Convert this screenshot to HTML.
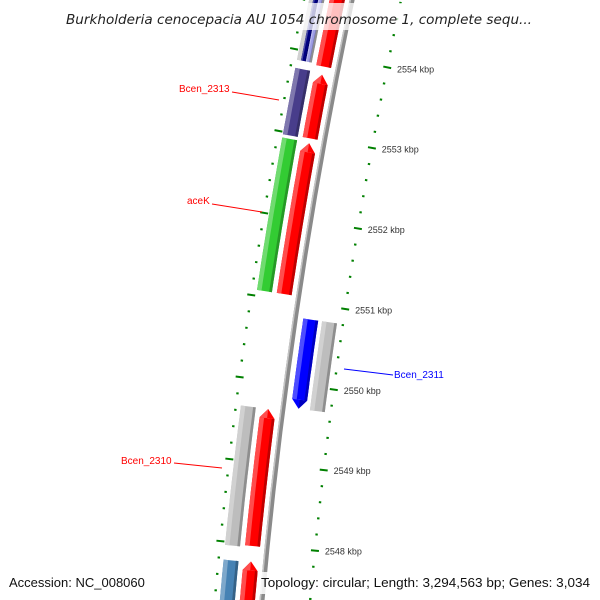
<!DOCTYPE html>
<html><head><meta charset="utf-8"><style>
html,body{margin:0;background:#fff;width:600px;height:600px;overflow:hidden;}
svg{display:block;font-family:"Liberation Sans","DejaVu Sans",sans-serif;}
</style></head><body>
<svg id="map" width="600" height="600" viewBox="0 0 600 600" xmlns="http://www.w3.org/2000/svg" style="overflow:hidden">
<g id="ticks"></g>
<g id="backbone"></g>
<g id="genes"></g>
<g>
<line x1="232" y1="92" x2="279" y2="100" stroke="#ff0000" stroke-width="1"/>
<text x="179" y="92" font-size="10" fill="#ff0000">Bcen_2313</text>
<line x1="212" y1="204" x2="262" y2="212" stroke="#ff0000" stroke-width="1"/>
<text x="187" y="204" font-size="10" fill="#ff0000">aceK</text>
<line x1="174" y1="463" x2="222" y2="468" stroke="#ff0000" stroke-width="1"/>
<text x="121" y="464" font-size="10" fill="#ff0000">Bcen_2310</text>
<line x1="344" y1="369" x2="393" y2="375" stroke="#0000ff" stroke-width="1"/>
<text x="394" y="378" font-size="10" fill="#0000ff">Bcen_2311</text>
</g>
<rect x="62" y="3" width="474" height="27" fill="#fff" fill-opacity="0.75"/>
<text x="299" y="24" font-size="13.3" font-style="italic" fill="#222" text-anchor="middle" textLength="466" lengthAdjust="spacingAndGlyphs" style="font-family:'DejaVu Sans','Liberation Sans',sans-serif">Burkholderia cenocepacia AU 1054 chromosome 1, complete sequ...</text>
<rect x="258" y="572" width="336" height="22" fill="#fff" fill-opacity="0.85"/>
<text x="9" y="587" font-size="13" fill="#111">Accession: NC_008060</text>
<text x="261" y="587" font-size="13" fill="#111" textLength="329" lengthAdjust="spacingAndGlyphs">Topology: circular; Length: 3,294,563 bp; Genes: 3,034</text>
</svg>
<script>
// data (kbp)
const tickMajors = [2555, 2554, 2553, 2552, 2551, 2550, 2549, 2548, 2547, 2546];
const tickLabels = ["2555 kbp","2554 kbp","2553 kbp","2552 kbp","2551 kbp","2550 kbp","2549 kbp","2548 kbp","2547 kbp","2546 kbp"];
const geneStarts = [2553.86, 2552.98, 2551.07, 2547.98, 2546.8, 2553.88, 2553.88, 2553.88, 2552.97, 2551.07, 2547.96, 2546.8, 2549.71, 2549.71];
const geneEnds   = [2555.0, 2553.76, 2552.92, 2549.66, 2547.79, 2555.0, 2555.0, 2555.0, 2553.78, 2552.93, 2549.66, 2547.78, 2550.81, 2550.81];
const geneStrand = [0, 1, 1, 1, 1, 0, 0, 0, 0, 0, 0, 0, -1, 0];
const geneRing   = [-1, -1, -1, -1, -1, -2, -2, -2, -2, -2, -2, -2, 1, 2];
const geneColor  = ["#ff0000","#ff0000","#ff0000","#ff0000","#ff0000","#bdbdbd","#000080","#9e9ee6","#483d8b","#33cc33","#bdbdbd","#4682b4","#0000ff","#bdbdbd"];
const geneName   = ["gene-red-top","gene-red-2313","gene-red-acek","gene-red-2310","gene-red-bottom","gene-gray-top","gene-navy-top","gene-lavender-top","gene-bcen-2313","gene-acek","gene-bcen-2310","gene-steelblue-bottom","gene-bcen-2311","gene-gray-2311"];

const NS = "http://www.w3.org/2000/svg";
const PX_PER_KBP = 81.3;
function yScale(kbp){ return 58 + (2554 - kbp) * PX_PER_KBP; }
function bx(y){ return 352 - 0.21*y + 1e-4*y*y; }
function pt(kbp, d){
  const y = yScale(kbp);
  const dx = -0.21 + 2e-4*y;
  const n = Math.sqrt(1 + dx*dx);
  return [bx(y) + d/n, y - d*dx/n];
}
const ringOff = {"-2":[-42,-27],"-1":[-22,-7],"1":[8,23],"2":[27,42]};
const subOff = {6:[-38,-33],7:[-33,-29]};

function shade(hex, f){
  const c = parseInt(hex.slice(1),16);
  let r=c>>16,g=(c>>8)&255,b=c&255;
  const m = v => Math.max(0,Math.min(255,Math.round(f>1? v+(255-v)*(f-1) : v*f)));
  return "rgb("+m(r)+","+m(g)+","+m(b)+")";
}
function poly(parent, pts, fill, name){
  const p = document.createElementNS(NS,"polygon");
  p.setAttribute("points", pts.map(a=>a[0].toFixed(1)+","+a[1].toFixed(1)).join(" "));
  p.setAttribute("fill", fill);
  
  
  parent.appendChild(p);
  return p;
}
function strip(k0,k1,d0,d1){
  const pts=[], steps=12;
  for(let i=0;i<=steps;i++){ const k=k0+(k1-k0)*i/steps; pts.push(pt(k,d0)); }
  for(let i=steps;i>=0;i--){ const k=k0+(k1-k0)*i/steps; pts.push(pt(k,d1)); }
  return pts;
}

const bb = document.getElementById("backbone");
poly(bb, strip(2546.5, 2555.2, -2.5, 2.5), "#8a8a8a", "backbone-line");
poly(bb, strip(2546.5, 2555.2, -2.5, -1), "#c4c4c4", "backbone-highlight");

const tg = document.getElementById("ticks");
for(let i=0;i<tickMajors.length-1;i++){
  for(let j=0;j<5;j++){
    const k = tickMajors[i] - j*0.2;
    [[-47,"left"],[48,"right"]].forEach(([d,side])=>{
      const major = j===0;
      const a = pt(k, major? d-4 : d-1.2), b = pt(k, major? d+4 : d+1.2);
      const l = document.createElementNS(NS,"line");
      l.setAttribute("x1",a[0]);l.setAttribute("y1",a[1]);l.setAttribute("x2",b[0]);l.setAttribute("y2",b[1]);
      l.setAttribute("stroke","#008000");l.setAttribute("stroke-width","2");
      
      
      tg.appendChild(l);
    });
  }
  const lp = pt(tickMajors[i], 58);
  if(lp[1] > 565 || lp[1] < 35) continue;
  const t = document.createElementNS(NS,"text");
  t.setAttribute("x", lp[0]); t.setAttribute("y", lp[1]+3);
  t.setAttribute("font-size","9"); t.setAttribute("fill","#333");
  t.textContent = tickLabels[i];
  
  
  tg.appendChild(t);
}

const gg = document.getElementById("genes");
for(let i=0;i<geneStarts.length;i++){
  const off = subOff[i] || ringOff[String(geneRing[i])];
  const d0=off[0], d1=off[1], w=d1-d0, mid=(d0+d1)/2;
  const g = document.createElementNS(NS,"g");
  
  
  gg.appendChild(g);
  let k0 = geneStarts[i], k1 = geneEnds[i];
  const ah = 9/PX_PER_KBP;
  let body0=k0, body1=k1;
  if(geneStrand[i]===1) body1 = k1 - ah;
  if(geneStrand[i]===-1) body0 = k0 + ah;
  const col = geneColor[i];
  poly(g, strip(body0, body1, d0, d1), col, "gene-body");
  poly(g, strip(body0, body1, d0, d0+w*0.3), shade(col,1.3), "gene-highlight");
  poly(g, strip(body0, body1, d1-w*0.18, d1), shade(col,0.75), "gene-shadow");
  if(geneStrand[i]===1){
    poly(g, [pt(body1,d0),pt(k1,mid),pt(body1,d1)], col, "gene-arrowhead");
    poly(g, [pt(body1,d0),pt(k1,mid),pt(body1,mid)], shade(col,1.3), "gene-arrowhead-highlight");
  } else if(geneStrand[i]===-1){
    poly(g, [pt(body0,d0),pt(k0,mid),pt(body0,d1)], col, "gene-arrowhead");
    poly(g, [pt(body0,d1),pt(k0,mid),pt(body0,mid)], shade(col,0.75), "gene-arrowhead-shadow");
  }
}
</script>
</body></html>
